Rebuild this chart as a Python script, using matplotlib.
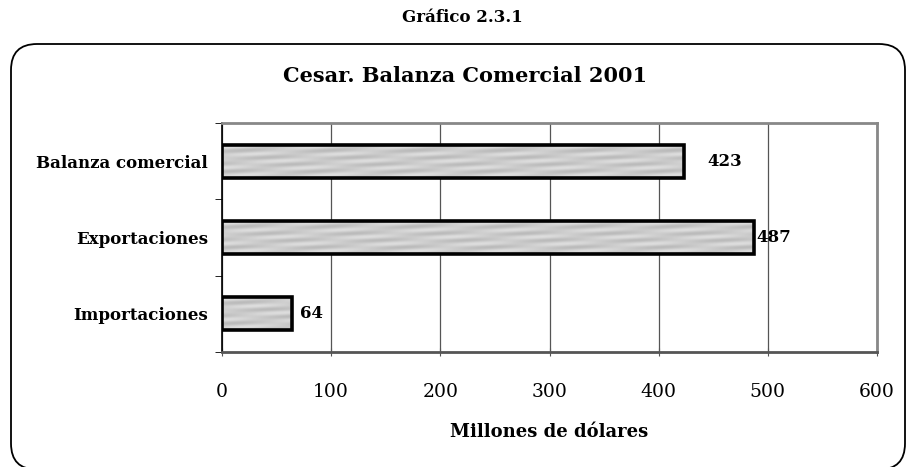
import matplotlib
matplotlib.use("Agg")
import numpy as np
import matplotlib.pyplot as plt
from matplotlib.patches import FancyBboxPatch

categories = ["Importaciones", "Exportaciones", "Balanza comercial"]
values = [64, 487, 423]
xticks = [0, 100, 200, 300, 400, 500, 600]
label_offsets = [8, 3, 24]  # px gap between bar end and value label

W, H = 911, 467
plt.rcParams['font.family'] = ['DejaVu Serif']
fig = plt.figure(figsize=(W / 100, H / 100), dpi=100)

# rounded frame (in inches)
frame = FancyBboxPatch((11 / 100, -0.025), (905 - 11) / 100, (H - 44) / 100 + 0.025,
                       boxstyle="round,pad=0,rounding_size=0.26",
                       transform=fig.dpi_scale_trans, fill=False, lw=1.3,
                       edgecolor='black')
fig.patches.append(frame)

fig.text(462 / W, 1 - 17 / H, "Gráfico 2.3.1", ha='center', va='center',
         fontsize=12, fontweight='bold')
fig.text(465 / W, 1 - 76 / H, "Cesar. Balanza Comercial 2001", ha='center',
         va='center', fontsize=15, fontweight='bold')

left, right, top, bottom = 222, 877, 123, 352
ax = fig.add_axes([left / W, 1 - bottom / H, (right - left) / W, (bottom - top) / H])
ax.set_xlim(0, 600)
ax.set_ylim(-0.5, 2.5)

bars = ax.barh(range(len(categories)), values, height=0.43,
               color='none', edgecolor='black', linewidth=2.6, zorder=4)

# subtle gray diagonal texture inside each bar
yy, xx = np.mgrid[0:60, 0:600]
tex = 0.80 + 0.04 * np.sin((xx * 0.08 + yy * 0.35)) + 0.03 * np.sin(yy * 0.5)
for b in bars:
    x0, y0, w, h = b.get_x(), b.get_y(), b.get_width(), b.get_height()
    im = ax.imshow(tex[:, :max(int(w), 2)], cmap='gray', vmin=0, vmax=1,
                   extent=(x0, x0 + w, y0, y0 + h), aspect='auto',
                   interpolation='bilinear', zorder=3)
    im.set_clip_path(b)
ax.set_xlim(0, 600)
ax.set_ylim(-0.5, 2.5)

for i, (v, off) in enumerate(zip(values, label_offsets)):
    ax.annotate(str(v), (v, i), xytext=(off, 0), textcoords='offset pixels',
                ha='left', va='center', fontsize=12, fontweight='bold')

ax.set_xticks(xticks)
ax.set_xticklabels([str(t) for t in xticks], fontsize=13.5)
ax.tick_params(axis='x', length=6, pad=19, direction='inout', color='#555555')
ax.xaxis.grid(True, color='#555555', lw=0.9, zorder=0)

ax.set_yticks(range(len(categories)))
ax.set_yticklabels(categories, fontsize=12, fontweight='bold')
ax.tick_params(axis='y', length=0, pad=10)
ax.set_yticks([-0.5, 0.5, 1.5, 2.5], minor=True)
ax.tick_params(axis='y', which='minor', length=5, color='black')

ax.spines['left'].set_color('black')
ax.spines['left'].set_linewidth(1.2)
ax.spines['bottom'].set_color('#555555')
ax.spines['bottom'].set_linewidth(2)
ax.spines['top'].set_color('#888888')
ax.spines['top'].set_linewidth(2)
ax.spines['right'].set_color('#888888')
ax.spines['right'].set_linewidth(2)

fig.text((left + right) / 2 / W, 1 - 432 / H, "Millones de dólares", ha='center',
         va='center', fontsize=13, fontweight='bold')

fig.savefig("out.png", dpi=100)
